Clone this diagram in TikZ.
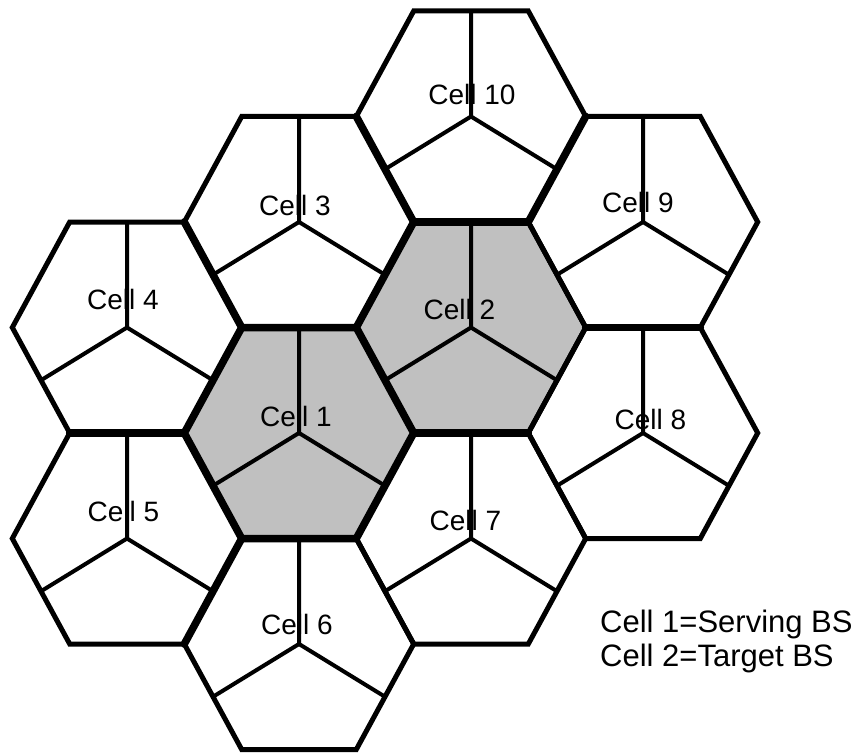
\documentclass[tikz,border=0pt]{standalone}
\usepackage{fontspec}
\setmainfont{Liberation Sans}
\usepackage{xcolor}
\usepackage{tikz}
\usetikzlibrary{positioning}
\definecolor{cellgray}{RGB}{192,192,192}

\begin{document}
\begin{tikzpicture}[
    x=1pt, y=-1pt,
    hexedge/.style={line width=5pt, line join=miter},
    seamedge/.style={line width=7.5pt, line cap=round},
    sector/.style={line width=4pt},
    shaded/.style={fill=cellgray},
    celllabel/.style={anchor=base, inner sep=0pt, font=\fontsize{28}{30}\selectfont},
    legendtext/.style={anchor=base west, inner sep=0pt, font=\fontsize{31}{34}\selectfont}
]
\useasboundingbox (0,0) rectangle (859,754);

% Cell centres and corners (number/x/y)
\foreach \n/\cx/\cy in {1/299/433, 2/471/327.5, 3/299/222, 4/127/327.5, 5/127/538.5,
                        6/299/644, 7/471/538.5, 8/643/433, 9/643/222, 10/471/116.5} {
    \coordinate (c\n) at (\cx,\cy);
    \coordinate (c\n-r)  at ([shift={(114.7,0)}]c\n);
    \coordinate (c\n-tr) at ([shift={(57.3,-105.5)}]c\n);
    \coordinate (c\n-tl) at ([shift={(-57.3,-105.5)}]c\n);
    \coordinate (c\n-l)  at ([shift={(-114.7,0)}]c\n);
    \coordinate (c\n-bl) at ([shift={(-57.3,105.5)}]c\n);
    \coordinate (c\n-br) at ([shift={(57.3,105.5)}]c\n);
    % sector ends
    \coordinate (c\n-tm) at ([shift={(0,-105.5)}]c\n);
    \coordinate (c\n-lm) at ([shift={(-86,52.75)}]c\n);
    \coordinate (c\n-rm) at ([shift={(86,52.75)}]c\n);
}

% Serving and target cells shaded
\foreach \n in {1,2}
    \fill[shaded] (c\n-r) -- (c\n-tr) -- (c\n-tl) -- (c\n-l) -- (c\n-bl) -- (c\n-br) -- cycle;

% Labels (number/dx/dy from centre)
\foreach \n/\dx/\dy in {1/-3/-7, 2/-11.5/-8, 3/-4/-7, 4/-4/-18, 5/-3.5/-17.5,
                        6/-2/-10, 7/-5.5/-8.5, 8/7.5/-4, 9/-5/-9, 10/1/-11.5}
    \node[celllabel] (label\n) at ([shift={(\dx,\dy)}]c\n) {Cell \n};

% Hexagon outlines and sectors
\foreach \n in {1,...,10} {
    \draw[hexedge] (c\n-r) -- (c\n-tr) -- (c\n-tl) -- (c\n-l) -- (c\n-bl) -- (c\n-br) -- cycle;
    \draw[sector] (c\n-tm) -- (c\n) -- (c\n-lm);
    \draw[sector] (c\n) -- (c\n-rm);
}

% Heavier shared edges
\draw[seamedge] (c1-r) -- (c1-tr) -- (c1-tl) -- (c1-l) -- (c1-bl) -- (c1-br) -- cycle;
\draw[seamedge] (c2-l) -- (c2-tl) -- (c2-tr);
\draw[seamedge] (c2-bl) -- (c2-br);
\draw[seamedge] (c10-l) -- (c10-bl);
\draw[seamedge] (c10-r) -- (c10-br);
\draw[seamedge] (c9-bl) -- (c9-br);
\draw[seamedge] (c3-l) -- (c3-bl);
\draw[seamedge] (c4-bl) -- (c4-br);
\draw[seamedge] (c5-r) -- (c5-br);

% Legend
\node[legendtext] (serving) at (600,632) {Cell 1=Serving BS};
\node[legendtext] (target) at (600,666) {Cell 2=Target BS};
\end{tikzpicture}
\end{document}
